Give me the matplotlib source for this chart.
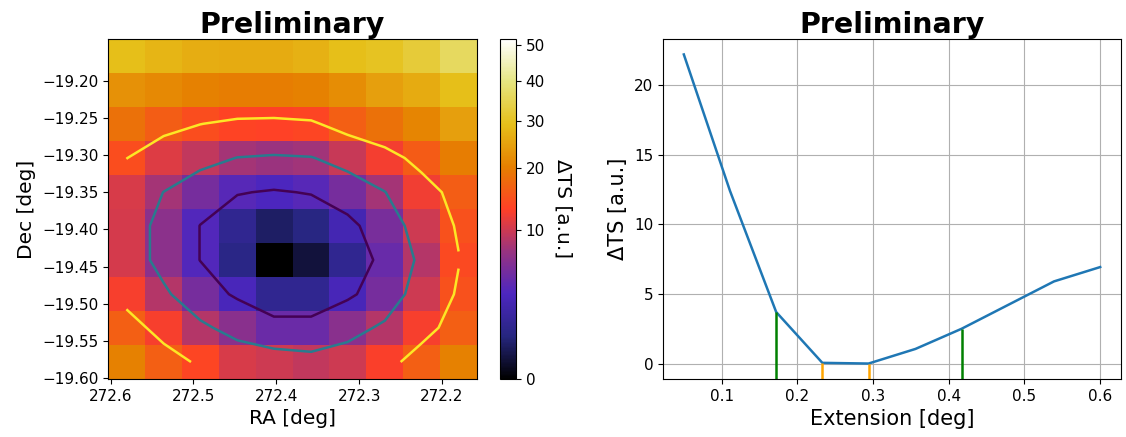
import matplotlib
matplotlib.use("Agg")
import matplotlib.pyplot as plt
from matplotlib.colors import PowerNorm
import numpy as np

# sky grid (pixel centres), RA left to right, Dec top to bottom
ra_centers = [272.581, 272.536, 272.492, 272.447, 272.403,
              272.358, 272.314, 272.269, 272.225, 272.180]
dec_centers = [-19.167, -19.213, -19.258, -19.304, -19.350,
               -19.395, -19.441, -19.487, -19.532, -19.578]

# delta TS map, rows from top (high Dec) to bottom
ts_map = [
    [29.0, 27.5, 26.5, 26.0, 26.0, 27.0, 29.0, 30.0, 32.0, 36.0],
    [22.6, 21.5, 20.5, 20.0, 20.0, 20.5, 22.0, 24.5, 26.0, 29.0],
    [18.5, 16.0, 14.3, 13.2, 13.0, 13.5, 16.4, 18.4, 21.0, 24.5],
    [14.3, 11.0, 9.4, 7.8, 7.4, 7.7, 9.6, 12.3, 15.8, 20.0],
    [10.5, 7.85, 5.2, 3.7, 3.2, 3.7, 5.3, 7.8, 12.0, 16.0],
    [10.3, 6.5, 3.45, 1.3, 0.5, 0.9, 2.6, 5.4, 10.0, 14.8],
    [10.3, 6.5, 3.45, 1.0, 0.0, 0.2, 1.3, 4.5, 8.7, 14.0],
    [12.5, 8.6, 5.2, 3.0, 1.3, 1.3, 2.9, 5.3, 10.0, 14.8],
    [16.3, 12.4, 8.7, 6.4, 4.6, 4.6, 6.4, 8.6, 12.4, 16.3],
    [20.3, 16.3, 13.5, 10.5, 10.0, 9.3, 10.0, 12.6, 16.3, 20.3],
]
contour_levels = [3.5, 7.9, 14.2]
dec_ticks = [-19.60, -19.55, -19.50, -19.45, -19.40, -19.35, -19.30, -19.25, -19.20]
ra_ticks = [272.6, 272.5, 272.4, 272.3, 272.2]

# extension scan
extension = [0.05, 0.111, 0.172, 0.233, 0.294, 0.356, 0.417, 0.478, 0.539, 0.6]
delta_ts = [22.2, 12.4, 3.7, 0.05, 0.0, 1.05, 2.5, 4.2, 5.9, 6.93]

# uncertainty markers
green_x = [0.172, 0.417]
green_top = [3.7, 2.5]
orange_x = [0.233, 0.294]
orange_top = [0.05, 0.0]

W, H = 1126, 437
fig = plt.figure(figsize=(W / 100, H / 100), dpi=100)

def box(l, r, t, b):
    return [l / W, 1 - b / H, (r - l) / W, (b - t) / H]

ax1 = fig.add_axes(box(108, 477, 39, 379))
cax = fig.add_axes(box(500, 516, 39, 379))
ax2 = fig.add_axes(box(663, 1121, 39, 379))

# left panel: TS map
ts = np.array(ts_map)
norm = PowerNorm(gamma=0.5, vmin=0, vmax=51.9)
mesh = ax1.pcolormesh(ra_centers, dec_centers, ts, cmap="CMRmap", norm=norm,
                      shading="nearest")
ax1.contour(ra_centers, dec_centers, ts, levels=contour_levels,
            cmap="viridis", linewidths=1.8)
ax1.set_xlim(ra_centers[0] + 0.0222, ra_centers[-1] - 0.0222)
ax1.set_ylim(dec_centers[-1] - 0.0228, dec_centers[0] + 0.0228)
ax1.set_xticks(ra_ticks)
ax1.set_yticks(dec_ticks)
ax1.set_yticklabels([f"{v:.2f}".replace("-", "\u2212") for v in dec_ticks])
ax1.set_xlabel("RA [deg]", fontsize=14.5)
ax1.set_ylabel("Dec [deg]", fontsize=14.5)
ax1.set_title("Preliminary", fontsize=20.5, fontweight="bold", pad=4)
ax1.tick_params(labelsize=11)

cbar = fig.colorbar(mesh, cax=cax)
cbar.set_ticks([0, 10, 20, 30, 40, 50])
cbar.ax.tick_params(labelsize=11)
cbar.set_label("\u0394TS [a.u.]", rotation=270, fontsize=14.5, labelpad=20)

# right panel: extension profile
ax2.plot(extension, delta_ts, color="C0", linewidth=1.8)
ax2.set_xticks([0.1, 0.2, 0.3, 0.4, 0.5, 0.6])
ax2.set_yticks([0, 5, 10, 15, 20])
ax2.grid(True)
ax2.set_axisbelow(True)
ylo = ax2.get_ylim()[0]
ax2.set_ylim(ax2.get_ylim())
ax2.vlines(green_x, ylo, green_top, color="green", linewidth=1.8)
ax2.vlines(orange_x, ylo, orange_top, color="orange", linewidth=1.8)
ax2.set_xlabel("Extension [deg]", fontsize=15)
ax2.set_ylabel("\u0394TS [a.u.]", fontsize=15)
ax2.set_title("Preliminary", fontsize=20.5, fontweight="bold", pad=4)
ax2.tick_params(labelsize=11)

plt.savefig("out.png", dpi=100)
